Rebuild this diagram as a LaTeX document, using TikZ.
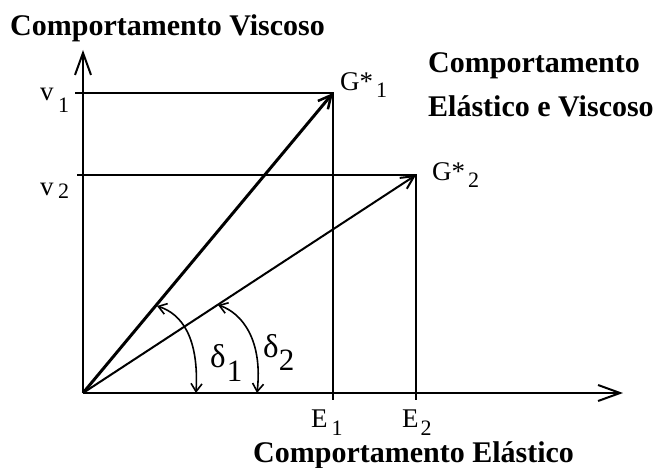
\documentclass[tikz,border=0pt]{standalone}
\usepackage{fontspec}
\setmainfont{Liberation Serif}
\usetikzlibrary{arrows.meta}
\begin{document}
\begin{tikzpicture}[x=1pt,y=-1pt,
  axis/.style={line width=2pt,-{Straight Barb[length=22pt,width=16pt,line width=2pt]}},
  guide/.style={line width=2pt},
  vecthick/.style={line width=3pt,-{Straight Barb[length=13pt,width=13pt,line width=2.5pt]}},
  vecthin/.style={line width=2pt,-{Straight Barb[length=13pt,width=13pt,line width=2pt]}},
  anglearc/.style={line width=1.6pt,{Straight Barb[length=8pt,width=11pt]}-{Straight Barb[length=8pt,width=11pt]}},
  lbl/.style={anchor=base west,inner sep=0pt,font=\fontsize{27}{27}\selectfont},
  dlbl/.style={anchor=base west,inner sep=0pt,font=\fontsize{33}{33}\selectfont},
  ttl/.style={anchor=base west,inner sep=0pt,font=\fontsize{30}{30}\selectfont\bfseries}]
\path[use as bounding box] (0,0) rectangle (658,468);
% key points
\coordinate (O) at (83,393);
\coordinate (Xend) at (623,393);
\coordinate (Yend) at (83,50);
\coordinate (V1s) at (75,93);
\coordinate (V2s) at (77,175);
\coordinate (G1) at (333,93);
\coordinate (G2) at (416,175);
\coordinate (E1) at (333,400);
\coordinate (E2) at (416,400);
\coordinate (D1a) at (157,306);
\coordinate (D1b) at (196,393);
\coordinate (D2a) at (218,305);
\coordinate (D2b) at (257,393);
% guide lines
\draw[guide] (V1s) -- (G1) -- (E1);
\draw[guide] (V2s) -- (G2) -- (E2);
% axes
\draw[axis] (O) -- (Xend);
\draw[axis] (O) -- (Yend);
% vectors
\draw[vecthick] (O) -- (G1);
\draw[vecthin] (O) -- (G2);
% angle arcs
\draw[anglearc] (D1a) .. controls (182,314) and (199,338) .. (D1b);
\draw[anglearc] (D2a) .. controls (242,313) and (263,340) .. (D2b);
% labels
\node[lbl] (lv1) at (40,101) {v\hspace{4.5pt}\raisebox{-12pt}{\fontsize{22}{22}\selectfont 1}};
\node[lbl] (lv2) at (40,195) {v\hspace{4.5pt}\raisebox{-3pt}{\fontsize{22}{22}\selectfont 2}};
\node[lbl] (lg1) at (340,91) {G*\hspace{3pt}\raisebox{-7pt}{\fontsize{22}{22}\selectfont 1}};
\node[lbl] (lg2) at (432,180) {G*\hspace{3pt}\raisebox{-7pt}{\fontsize{22}{22}\selectfont 2}};
\node[lbl] (le1) at (311,427) {E\hspace{4pt}\raisebox{-8pt}{\fontsize{22}{22}\selectfont 1}};
\node[lbl] (le2) at (402,427) {E\hspace{2pt}\raisebox{-8pt}{\fontsize{22}{22}\selectfont 2}};
\node[dlbl] (ld1) at (210,367) {δ\hspace{1pt}\raisebox{-14pt}{\fontsize{31}{31}\selectfont 1}};
\node[dlbl] (ld2) at (263,357) {δ\hspace{0pt}\raisebox{-13pt}{\fontsize{31}{31}\selectfont 2}};
% titles
\node[ttl] (tv) at (10,36) {Comportamento Viscoso};
\node[ttl] (tev1) at (428,73) {Comportamento};
\node[ttl] (tev2) at (428,117) {Elástico e Viscoso};
\node[ttl] (te) at (253,462) {Comportamento Elástico};
\end{tikzpicture}
\end{document}
